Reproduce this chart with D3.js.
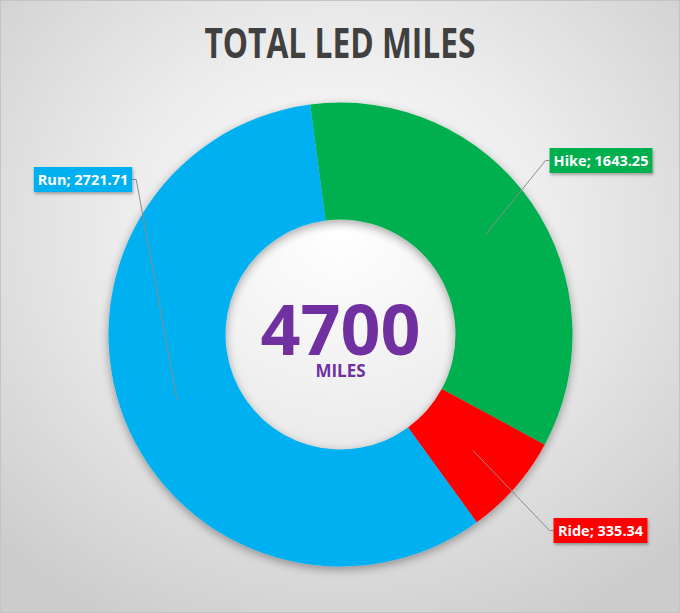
<!DOCTYPE html>
<html>
<head>
<meta charset="utf-8">
<script src="https://d3js.org/d3.v7.min.js"></script>
<style>
  html, body { margin: 0; padding: 0; background: #fff; }
  svg { display: block; }
</style>
</head>
<body>
<div id="chart"></div>
<script>
const categories = ["Hike", "Ride", "Run"];
const values = [1643.25, 335.34, 2721.71];
const colors = ["#00B050", "#FF0000", "#00B0F0"];
const title = "TOTAL LED MILES";
const centerUnit = "MILES";

const width = 680;
const height = 613;
const cx = 340.5, cy = 334.5;
const outerR = 232, innerR = 115;
const leaderR = 176;
const startDeg = -7.5;

// where each label box sits (box centre) and which side the leader leaves from
const labelPos = {
  Hike: { x: 601, y: 160.5, side: "left" },
  Ride: { x: 600.5, y: 530.5, side: "left" },
  Run:  { x: 83, y: 179.5, side: "right" }
};

const svg = d3.select("#chart").append("svg")
  .attr("width", width)
  .attr("height", height);

const defs = svg.append("defs");
const bg = defs.append("radialGradient")
  .attr("id", "bg")
  .attr("cx", "50%").attr("cy", "38%").attr("r", "72%");
bg.append("stop").attr("offset", "0%").attr("stop-color", "#ffffff");
bg.append("stop").attr("offset", "45%").attr("stop-color", "#ececec");
bg.append("stop").attr("offset", "100%").attr("stop-color", "#cccccc");

const shadow = defs.append("filter")
  .attr("id", "shadow")
  .attr("x", "-20%").attr("y", "-20%").attr("width", "140%").attr("height", "140%");
shadow.append("feDropShadow")
  .attr("dx", 0).attr("dy", 3)
  .attr("stdDeviation", 5)
  .attr("flood-color", "#000")
  .attr("flood-opacity", 0.35);

const boxShadow = defs.append("filter")
  .attr("id", "boxShadow")
  .attr("x", "-20%").attr("y", "-40%").attr("width", "140%").attr("height", "180%");
boxShadow.append("feDropShadow")
  .attr("dx", 1).attr("dy", 2)
  .attr("stdDeviation", 1.5)
  .attr("flood-color", "#000")
  .attr("flood-opacity", 0.3);

svg.append("rect")
  .attr("x", 0.5).attr("y", 0.5)
  .attr("width", width - 1).attr("height", height - 1)
  .attr("fill", "url(#bg)")
  .attr("stroke", "#c4c4c4");

svg.append("text")
  .attr("x", width / 2 + 0)
  .attr("y", 58)
  .attr("text-anchor", "middle")
  .attr("font-family", "'Open Sans', sans-serif")
  .attr("font-weight", "bold")
  .attr("font-size", 42)
  .attr("fill", "#404040")
  .attr("textLength", 271)
  .attr("lengthAdjust", "spacingAndGlyphs")
  .text(title);

const data = categories.map((c, i) => ({ name: c, value: values[i], color: colors[i] }));

const rad = startDeg * Math.PI / 180;
const pie = d3.pie()
  .sort(null)
  .value(d => d.value)
  .startAngle(rad)
  .endAngle(rad + 2 * Math.PI);

const arcs = pie(data);

const arc = d3.arc()
  .innerRadius(innerR)
  .outerRadius(outerR);

const leaderArc = d3.arc()
  .innerRadius(leaderR)
  .outerRadius(leaderR);

const g = svg.append("g")
  .attr("transform", `translate(${cx},${cy})`);

g.append("g")
  .attr("filter", "url(#shadow)")
  .selectAll("path")
  .data(arcs)
  .enter().append("path")
  .attr("d", arc)
  .attr("fill", d => d.data.color);

// leader lines
g.selectAll(".leader")
  .data(arcs)
  .enter().append("polyline")
  .attr("class", "leader")
  .attr("fill", "none")
  .attr("stroke", "#8c8c8c")
  .attr("stroke-width", 1)
  .attr("points", d => {
    const p = leaderArc.centroid(d);
    const lp = labelPos[d.data.name];
    return [p, [lp.ax - cx + (lp.side === "left" ? -4 : 4), lp.y - cy], [lp.ax - cx, lp.y - cy]]
      .map(q => q.join(",")).join(" ");
  });

// labels
const fmt = d3.format(".2f");
const labels = svg.selectAll(".lbl")
  .data(arcs)
  .enter().append("g")
  .attr("class", "lbl")
  .attr("transform", d => `translate(${labelPos[d.data.name].x},${labelPos[d.data.name].y})`);

labels.each(function(d) {
  const sel = d3.select(this);
  const rect = sel.append("rect").attr("fill", d.data.color).attr("filter", "url(#boxShadow)");
  const t = sel.append("text")
    .attr("text-anchor", "middle")
    .attr("dy", "0.36em")
    .attr("font-family", "'Open Sans', sans-serif")
    .attr("font-weight", "bold")
    .attr("font-size", 14.5)
    .attr("fill", "#fff")
    .text(`${d.data.name}; ${fmt(d.data.value).replace(/0+$/, "").replace(/\.$/, "")}`);
  const bb = t.node().getBBox();
  const w = bb.width + 8, h = 25;
  rect.attr("x", -w / 2).attr("y", -h / 2).attr("width", w).attr("height", h);
  const lp = labelPos[d.data.name];
  lp.ax = lp.side === "left" ? lp.x - w / 2 : lp.x + w / 2;
});

// redraw leader points now that box widths are known
g.selectAll(".leader")
  .attr("points", d => {
    const p = leaderArc.centroid(d);
    const lp = labelPos[d.data.name];
    const ex = lp.ax - cx, ey = lp.y - cy;
    const stub = lp.side === "left" ? -4 : 4;
    return [p, [ex + stub, ey], [ex, ey]].map(q => q.join(",")).join(" ");
  });

const total = d3.sum(values);
svg.append("text")
  .attr("x", cx)
  .attr("y", 355)
  .attr("text-anchor", "middle")
  .attr("font-family", "'Open Sans', sans-serif")
  .attr("font-weight", "bold")
  .attr("font-size", 70)
  .attr("fill", "#7030A0")
  .text(d3.format(".0f")(total));

svg.append("text")
  .attr("x", cx)
  .attr("y", 377)
  .attr("text-anchor", "middle")
  .attr("font-family", "'Open Sans', sans-serif")
  .attr("font-weight", "bold")
  .attr("font-size", 17)
  .attr("fill", "#7030A0")
  .text(centerUnit);
</script>
</body>
</html>
